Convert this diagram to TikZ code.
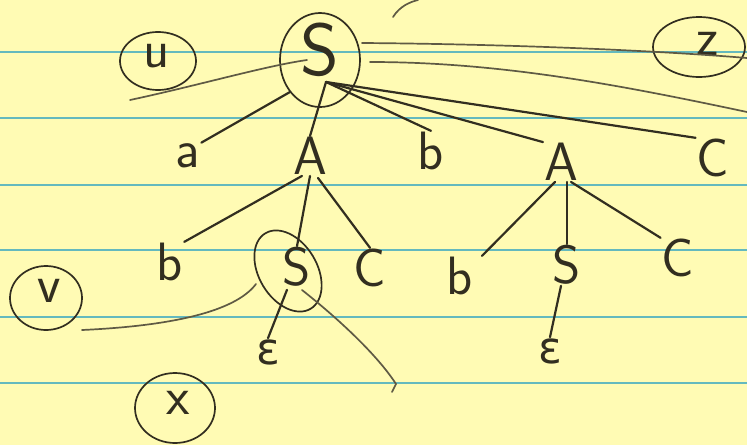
\documentclass[tikz,border=0pt]{standalone}
\usepackage{fontspec}
\newfontfamily\grkfont{DejaVu Sans}
\usetikzlibrary{shapes.geometric}
\definecolor{paper}{RGB}{255,251,180}
\definecolor{rule}{RGB}{100,185,190}
\definecolor{ink}{RGB}{50,46,32}
\definecolor{pencil}{RGB}{95,90,68}
\begin{document}
\begin{tikzpicture}[x=1pt,y=-1pt,
  lbl/.style={text=ink,font=\sffamily\fontsize{54}{54}\selectfont,inner sep=1pt},
  eps/.style={text=ink,font=\grkfont\fontsize{44}{44}\selectfont,inner sep=1pt},
  biglbl/.style={text=ink,font=\sffamily\fontsize{74}{74}\selectfont,inner sep=1pt},
  cirlbl/.style={text=ink,font=\sffamily\fontsize{54}{54}\selectfont,inner sep=0pt},
  ring/.style={draw=ink,line width=1.7pt},
  edge/.style={draw=ink,line width=2.2pt,line cap=round},
  cut/.style={draw=pencil,line width=1.7pt,line cap=round},
  ruling/.style={draw=rule,line width=1.8pt}]
\fill[paper] (0,0) rectangle (747,445);
\useasboundingbox (0,0) rectangle (747,445);
\foreach \yy in {52,118,185,250,317,383} \draw[ruling] (0,\yy) -- (747,\yy);
% top stray stroke
\draw[cut] (393,17) .. controls (400,6) and (410,2) .. (418,0);
% root
\node[biglbl] (S) at (320,50) {S};
\draw[ring] (320,60) ellipse [x radius=40, y radius=47];
% circled labels
\node[cirlbl] (u) at (157,56) {u};
\draw[ring] (158,61) ellipse [x radius=38, y radius=29];
\node[cirlbl] (z) at (708,44) {z};
\draw[ring] (699,47) ellipse [x radius=46, y radius=30];
\node[cirlbl] (v) at (49,291) {v};
\draw[ring] (46,298) ellipse [x radius=36, y radius=32];
\node[cirlbl] (x) at (178,403) {x};
\draw[ring] (175,408) ellipse [x radius=40, y radius=35];
% first level
\node[lbl] (a) at (188,156) {a};
\node[lbl] (A1) at (310,156) {A};
\node[lbl] (b1) at (431,151) {b};
\node[lbl] (A2) at (561,162) {A};
\node[lbl] (C1) at (713,158) {C};
% second level
\node[lbl] (b2) at (170,262) {b};
\node[lbl] (S2) at (297,267) {S};
\node[lbl] (C2) at (370,268) {C};
\node[eps] (e1) at (268,352) {ε};
\node[lbl] (b3) at (460,276) {b};
\node[lbl] (S3) at (567,265) {S};
\node[lbl] (C3) at (678,258) {C};
\node[eps] (e2) at (550,351) {ε};
\draw[ring,rotate around={-59:(288,271)}] (288,271) ellipse [x radius=44, y radius=29];
% edges
\coordinate (Sf) at (326,82);
\draw[edge] (Sf) ++(-36,10) -- (a.north east);
\draw[edge] (Sf) -- (A1.north);
\draw[edge] (Sf) -- (b1.north);
\draw[edge] (Sf) -- (A2.north west);
\draw[edge] (Sf) -- (C1.north west);
\draw[edge] (A1.south) ++(-8,0) -- (b2.north east);
\draw[edge] (A1.south) -- (S2.north);
\draw[edge] (A1.south) ++(8,2) -- (C2.north);
\draw[edge] (S2.south) ++(-10,2) -- (e1.north);
\draw[edge] (A2.south) ++(-6,0) -- ([xshift=22pt]b3.north);
\draw[edge] (A2.south) ++(6,0) -- (S3.north);
\draw[edge] (A2.south) ++(10,0) -- (C3.north west);
\draw[edge] (S3.south) ++(-6,0) -- (e2.north);
% cut lines
\draw[cut] (130,100) .. controls (200,85) and (265,66) .. (307,60);
\draw[cut] (362,43) .. controls (500,44) and (650,50) .. (747,58);
\draw[cut] (370,62) .. controls (500,62) and (620,85) .. (747,112);
\draw[cut] (82,330) .. controls (170,326) and (235,312) .. (256,284);
\draw[cut] (302,290) .. controls (340,320) and (378,356) .. (396,384) -- (392,392);
\end{tikzpicture}
\end{document}
